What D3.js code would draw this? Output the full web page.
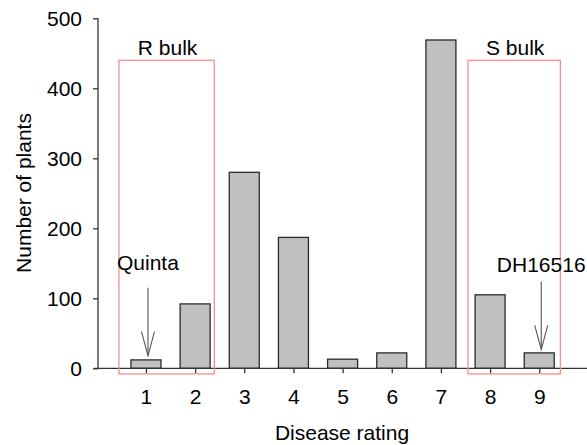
<!DOCTYPE html>
<html>
<head>
<meta charset="utf-8">
<script src="https://cdn.jsdelivr.net/npm/d3@7"></script>
<style>
html,body{margin:0;padding:0;background:#fff;}
svg{display:block;font-family:"Liberation Sans",Arial,sans-serif;}
</style>
</head>
<body>
<svg id="chart" width="587" height="445"></svg>
<script>
const ratings = [1,2,3,4,5,6,7,8,9];
const plants = [12,92,280,187,13,22,469,105,22];
const yTicks = [0,100,200,300,400,500];
const bulks = [
  {label:"R bulk", x0:0.45, x1:2.39},
  {label:"S bulk", x0:7.55, x1:9.43}
];
const bulkTop = 440, bulkBottom = -8;
const notes = [
  {label:"Quinta", rating:1, labelY:140, y0:115, y1:18},
  {label:"DH16516", rating:9, labelY:138, y0:124, y1:27}
];

const svg = d3.select("#chart");
const fs = 21;
const x = d3.scaleLinear().domain([0,10]).range([96.8,588.4]);
const y = d3.scaleLinear().domain([0,500]).range([368.3,18.3]);
const axisX = 98;
const bw = 30;

// bars
svg.append("g").selectAll("rect").data(ratings).join("rect")
  .attr("x", d => x(d) - bw/2)
  .attr("y", (d,i) => y(plants[i]))
  .attr("width", bw)
  .attr("height", (d,i) => y(0) - y(plants[i]))
  .attr("fill", "#c0c0c0")
  .attr("stroke", "#2a2a2a")
  .attr("stroke-width", 1.3);

// x axis
const xg = svg.append("g").attr("transform", `translate(0,${y(0)})`)
  .call(d3.axisBottom(x).tickValues(ratings).tickSize(5).tickPadding(16).tickFormat(d3.format("d")));
xg.select(".domain").remove();
xg.append("line").attr("x1", 94).attr("x2", 587).attr("stroke", "#333").attr("stroke-width", 1.3);
xg.selectAll(".tick line").attr("stroke", "#333").attr("stroke-width", 1.3);
xg.selectAll(".tick text").attr("font-size", fs).attr("fill", "#000")
  .attr("font-family", "'Liberation Sans',Arial,sans-serif");

// y axis
const yg = svg.append("g").attr("transform", `translate(${axisX},0)`)
  .call(d3.axisLeft(y).tickValues(yTicks).tickSize(5).tickPadding(11).tickFormat(d3.format("d")));
yg.select(".domain").remove();
yg.append("line").attr("y1", y(0)).attr("y2", y(500)).attr("stroke", "#333").attr("stroke-width", 1.3);
yg.selectAll(".tick line").attr("stroke", "#333").attr("stroke-width", 1.3);
yg.selectAll(".tick text").attr("font-size", fs).attr("fill", "#000")
  .attr("font-family", "'Liberation Sans',Arial,sans-serif");

// bulk boxes
bulks.forEach(b => {
  svg.append("rect")
    .attr("x", x(b.x0)).attr("y", y(bulkTop))
    .attr("width", x(b.x1) - x(b.x0))
    .attr("height", y(bulkBottom) - y(bulkTop))
    .attr("fill", "none").attr("stroke", "#ff8a8a").attr("stroke-width", 1.3);
  svg.append("text")
    .attr("x", (x(b.x0) + x(b.x1)) / 2 + 1)
    .attr("y", 55)
    .attr("text-anchor", "middle")
    .attr("font-size", fs)
    .text(b.label);
});

// annotations
notes.forEach(n => {
  const cx = x(n.rating) + 2;
  svg.append("text")
    .attr("x", cx).attr("y", y(n.labelY))
    .attr("text-anchor", "middle").attr("font-size", fs)
    .text(n.label);
  const tip = y(n.y1);
  svg.append("line")
    .attr("x1", cx).attr("x2", cx)
    .attr("y1", y(n.y0)).attr("y2", tip)
    .attr("stroke", "#555").attr("stroke-width", 1.1);
  svg.append("path")
    .attr("d", `M${cx-6.5},${tip-24}L${cx},${tip}L${cx+6.5},${tip-24}`)
    .attr("fill", "none").attr("stroke", "#555").attr("stroke-width", 1.1);
});

// axis titles
svg.append("text")
  .attr("x", 342).attr("y", 440)
  .attr("text-anchor", "middle").attr("font-size", fs)
  .text("Disease rating");
svg.append("text")
  .attr("transform", `translate(31,193) rotate(-90)`)
  .attr("text-anchor", "middle").attr("font-size", fs)
  .text("Number of plants");
</script>
</body>
</html>
